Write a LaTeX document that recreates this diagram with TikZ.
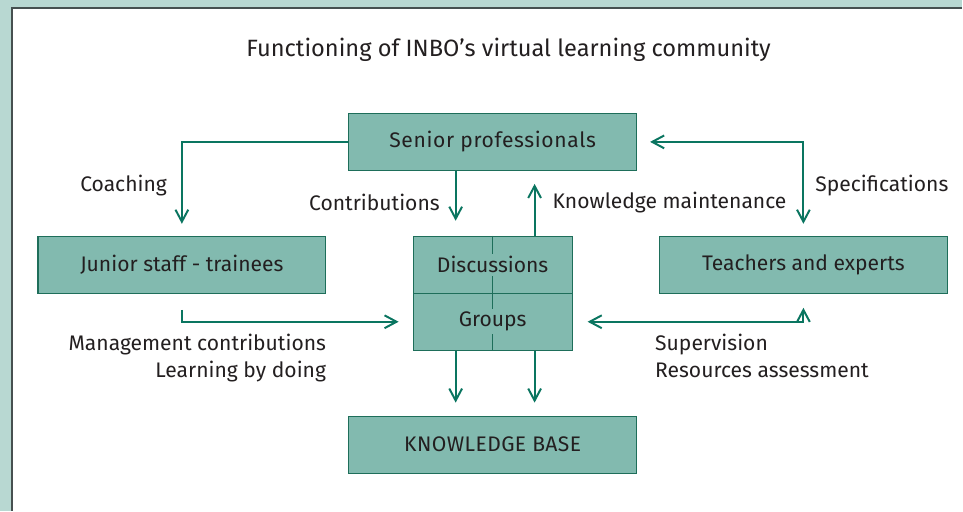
\documentclass[tikz,border=0pt]{standalone}
\usepackage{fontspec}
\setmainfont{Fira Sans}
\usepackage{tikz}
\usetikzlibrary{arrows.meta,positioning}

\definecolor{framebg}{RGB}{184,216,210}
\definecolor{framedark}{RGB}{70,80,80}
\definecolor{boxfill}{RGB}{130,186,175}
\definecolor{boxline}{RGB}{30,110,90}
\definecolor{arrowcol}{RGB}{10,117,96}
\definecolor{textcol}{RGB}{35,31,32}

\tikzset{
  >={Straight Barb[length=0.3cm, width=0.32cm, line width=1.4pt]},
  box/.style={draw=boxline, fill=boxfill, line width=0.8pt, minimum width=7.2cm,
    minimum height=1.425cm, inner sep=0pt, text=textcol},
  half/.style={box, minimum width=3.975cm},
  lbl/.style={text=textcol, inner sep=0pt},
  arr/.style={color=arrowcol, line width=1.4pt, ->},
  hv/.style={to path={-| (\tikztotarget) \tikztonodes}},
  vh/.style={to path={|- (\tikztotarget) \tikztonodes}}
}

\begin{document}
\begin{tikzpicture} [node distance = 3.075cm and 7.775cm, on grid,
    font=\fontsize{15}{19}\selectfont]
       % frame
       \fill[framebg] (-12.325,3.55) rectangle (11.75,-9.225);
       \fill[white] (-12.025,3.35) rectangle (11.75,-9.225);
       \draw[framedark, line width=1pt] (-12.025,-9.225) -- (-12.025,3.35) -- (11.75,3.35);

       \node (senior) [box] {\addfontfeature{LetterSpace=3}Senior professionals};
       \node (title) [lbl, font=\fontsize{16.8}{20}\selectfont] [above = 2.3cm of senior, xshift=0.4cm]
            {Functioning of INBO’s virtual learning community};
       \node (junior) [box] [below left = of senior] {Junior staff - trainees};
       \node (teachers) [box] [below right = of senior] {Teachers and experts};
       \node (disc) [half] [below = of senior] {};
       \node (groups) [half] [below = 1.425cm of disc] {};
       \node (kb) [box] [below = 7.575cm of senior] {\addfontfeature{LetterSpace=2}KNOWLEDGE BASE};

       % middle split of the discussion box
       \draw[boxline, line width=0.8pt] (disc.north) -- (groups.south);
       \node (disctext) [lbl, fill=boxfill, inner sep=2pt] at (disc) {Discussions};
       \node (groupstext) [lbl, fill=boxfill, inner sep=2pt] at (groups) {Groups};

       \path[arr]
        (senior.west) edge[hv, shorten >=0.3cm]
            node[lbl, left=0.35cm, pos=0.73] (coachlbl) {Coaching} (junior.north)
        ([xshift=-0.925cm]senior.south) edge[shorten >=0.375cm]
            node[lbl, left=0.375cm, pos=0.49] (contlbl) {Contributions} ([xshift=-0.925cm]disc.north)
        ([xshift=1.05cm]disc.north) edge[shorten >=0.325cm]
            node[lbl, right=0.425cm, pos=0.51] (maintlbl) {Knowledge maintenance} ([xshift=1.05cm]senior.south)
        (senior.east) edge[hv, <->, shorten <=0.325cm, shorten >=0.3cm]
            node[lbl, right=0.275cm, pos=0.73] (speclbl) {Specifications} (teachers.north)
        ([yshift=-0.4cm]junior.south) edge[vh, shorten >=0.35cm] (groups.west)
        (groups.east) edge[hv, <->, shorten <=0.375cm, shorten >=0.35cm] (teachers.south)
        ([xshift=-0.925cm]groups.south) edge[shorten >=0.325cm] ([xshift=-0.925cm]kb.north)
        ([xshift=1.05cm]groups.south) edge[shorten >=0.325cm] ([xshift=1.05cm]kb.north);

       \node (mgmtlbl) [lbl, anchor=north east, align=right] at ([yshift=-1.0cm]junior.south east)
            {Management contributions\\Learning by doing};
       \node (suplbl) [lbl, anchor=north west, align=left] at ([xshift=-0.1cm, yshift=-1.0cm]teachers.south west)
            {Supervision\\Resources assessment};
     \end{tikzpicture}
\end{document}
